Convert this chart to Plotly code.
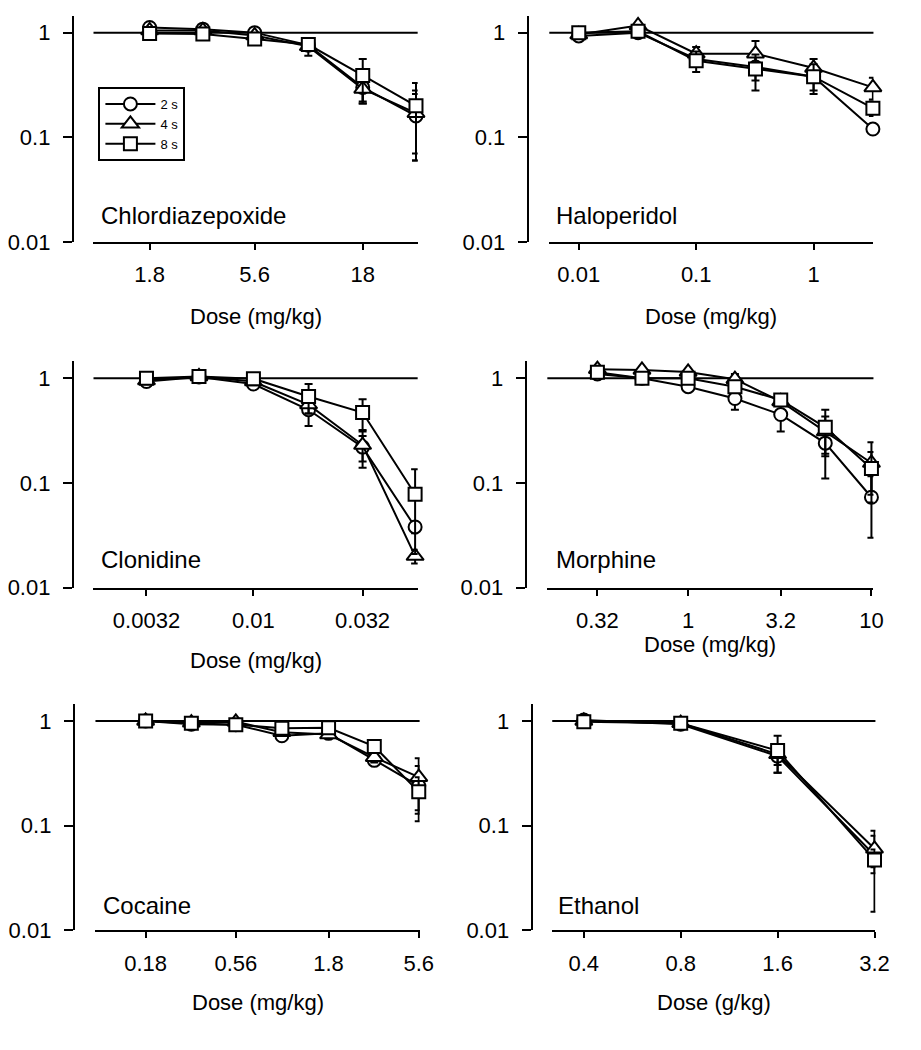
import plotly.graph_objects as go

# ---------------- data ----------------
series_names = ["2 s", "4 s", "8 s"]

cdp_dose = [1.8, 3.2, 5.6, 10, 18, 32]
cdp_2s = [1.12, 1.08, 1.0, 0.76, 0.30, 0.16]
cdp_4s = [1.05, 1.05, 0.94, 0.74, 0.29, 0.17]
cdp_8s = [0.98, 0.97, 0.87, 0.77, 0.39, 0.20]
cdp_2s_err = [0.06, 0.04, 0.03, 0.06, 0.09, 0.10]
cdp_4s_err = [0.04, 0.03, 0.03, 0.14, 0.08, 0.11]
cdp_8s_err = [0.04, 0.03, 0.04, 0.05, 0.17, 0.13]

hal_dose = [0.01, 0.032, 0.1, 0.32, 1, 3.2]
hal_2s = [0.93, 1.0, 0.56, 0.47, 0.38, 0.12]
hal_4s = [0.96, 1.17, 0.63, 0.63, 0.46, 0.30]
hal_8s = [1.0, 1.03, 0.54, 0.45, 0.38, 0.19]
hal_2s_err = [0.05, 0.04, 0.08, 0.12, 0.10, 0.01]
hal_4s_err = [0.04, 0.04, 0.10, 0.20, 0.10, 0.07]
hal_8s_err = [0.05, 0.03, 0.12, 0.17, 0.12, 0.03]

clo_dose = [0.0032, 0.0056, 0.01, 0.018, 0.032, 0.056]
clo_2s = [0.93, 1.03, 0.88, 0.50, 0.22, 0.038]
clo_4s = [0.95, 1.04, 0.93, 0.56, 0.23, 0.020]
clo_8s = [1.0, 1.04, 0.99, 0.67, 0.47, 0.078]
clo_2s_err = [0.05, 0.03, 0.06, 0.15, 0.06, 0.005]
clo_4s_err = [0.04, 0.03, 0.04, 0.10, 0.09, 0.003]
clo_8s_err = [0.04, 0.03, 0.03, 0.21, 0.16, 0.057]

mor_dose = [0.32, 0.56, 1, 1.8, 3.2, 5.6, 10]
mor_2s = [1.1, 1.0, 0.83, 0.64, 0.45, 0.24, 0.073]
mor_4s = [1.22, 1.2, 1.15, 0.98, 0.60, 0.31, 0.155]
mor_8s = [1.14, 1.0, 1.0, 0.83, 0.62, 0.34, 0.137]
mor_2s_err = [0.05, 0.04, 0.06, 0.14, 0.14, 0.13, 0.043]
mor_4s_err = [0.04, 0.04, 0.05, 0.12, 0.05, 0.12, 0.09]
mor_8s_err = [0.05, 0.04, 0.04, 0.10, 0.06, 0.16, 0.06]

coc_dose = [0.18, 0.32, 0.56, 1, 1.8, 3.2, 5.6]
coc_2s = [1.0, 0.93, 0.92, 0.72, 0.76, 0.42, 0.24]
coc_4s = [1.0, 0.96, 0.98, 0.78, 0.74, 0.45, 0.29]
coc_8s = [1.0, 0.95, 0.92, 0.85, 0.86, 0.57, 0.21]
coc_2s_err = [0.03, 0.04, 0.04, 0.05, 0.05, 0.04, 0.13]
coc_4s_err = [0.02, 0.03, 0.03, 0.05, 0.04, 0.05, 0.15]
coc_8s_err = [0.03, 0.05, 0.03, 0.05, 0.04, 0.04, 0.08]

eth_dose = [0.4, 0.8, 1.6, 3.2]
eth_2s = [1.02, 0.93, 0.46, 0.052]
eth_4s = [1.0, 0.95, 0.48, 0.060]
eth_8s = [0.98, 0.95, 0.52, 0.047]
eth_2s_err = [0.04, 0.03, 0.14, 0.037]
eth_4s_err = [0.05, 0.03, 0.10, 0.020]
eth_8s_err = [0.03, 0.03, 0.20, 0.012]

drug_names = ["Chlordiazepoxide", "Haloperidol", "Clonidine", "Morphine", "Cocaine", "Ethanol"]
x_titles = ["Dose (mg/kg)"] * 5 + ["Dose (g/kg)"]
x_tick_vals = [
    [1.8, 5.6, 18],
    [0.01, 0.1, 1],
    [0.0032, 0.01, 0.032],
    [0.32, 1, 3.2, 10],
    [0.18, 0.56, 1.8, 5.6],
    [0.4, 0.8, 1.6, 3.2],
]
x_tick_text = [
    ["1.8", "5.6", "18"],
    ["0.01", "0.1", "1"],
    ["0.0032", "0.01", "0.032"],
    ["0.32", "1", "3.2", "10"],
    ["0.18", "0.56", "1.8", "5.6"],
    ["0.4", "0.8", "1.6", "3.2"],
]
y_tick_vals = [0.01, 0.1, 1]
y_tick_text = ["0.01", "0.1", "1"]

panels = [
    (cdp_dose, [cdp_2s, cdp_4s, cdp_8s], [cdp_2s_err, cdp_4s_err, cdp_8s_err]),
    (hal_dose, [hal_2s, hal_4s, hal_8s], [hal_2s_err, hal_4s_err, hal_8s_err]),
    (clo_dose, [clo_2s, clo_4s, clo_8s], [clo_2s_err, clo_4s_err, clo_8s_err]),
    (mor_dose, [mor_2s, mor_4s, mor_8s], [mor_2s_err, mor_4s_err, mor_8s_err]),
    (coc_dose, [coc_2s, coc_4s, coc_8s], [coc_2s_err, coc_4s_err, coc_8s_err]),
    (eth_dose, [eth_2s, eth_4s, eth_8s], [eth_2s_err, eth_4s_err, eth_8s_err]),
]

# ---------------- layout geometry (page pixels) ----------------
OFF = 8                      # default body margin of the html page
W, H = 921 - 2 * OFF, 1050 - 2 * OFF
FONT = "Arial, Liberation Sans, sans-serif"


def fx(p):
    return (p - OFF) / W


def fy(p):
    return 1 - (p - OFF) / H


# x-axis pixel span, y-axis line x, log x range
x_geom = [
    (93, 423, 72, [-0.008, 1.513]),
    (557, 887, 535, [-2.251, 0.510]),
    (93, 423, 72, [-2.740, -1.240]),
    (555, 887, 533, [-0.768, 1.011]),
    (95, 425, 73, [-1.019, 0.753]),
    (560, 889, 539, [-0.496, 0.508]),
]
# y domain pixel (top, bottom) per row
y_geom = [(16, 245), (366, 595), (713, 942)]
title_y = [320, 320, 669, 653, 1015, 1015]
label_y = [218, 218, 567, 567, 917, 917]
label_x = [99, 562, 99, 562, 101, 564]

symbols = ["circle", "triangle-up", "square"]
msizes = [13, 15, 13]

fig = go.Figure()
for i, (dose, vals, errs) in enumerate(panels):
    k = i + 1
    xa = "x" if k == 1 else f"x{k}"
    ya = "y" if k == 1 else f"y{k}"
    for s in range(3):
        fig.add_trace(go.Scatter(
            x=dose, y=vals[s], xaxis=xa, yaxis=ya,
            mode="lines+markers", name=series_names[s],
            showlegend=(k == 1), legendgroup=series_names[s],
            line=dict(color="black", width=2),
            marker=dict(symbol=symbols[s], size=msizes[s], color="white",
                        line=dict(color="black", width=2)),
            error_y=dict(type="data", array=errs[s], visible=True,
                         color="black", thickness=2, width=4),
            cliponaxis=False,
        ))
    x0p, x1p, yax, xr = x_geom[i]
    row = i // 2
    ytop, ybot = y_geom[row]
    fig.layout[f"xaxis{'' if k == 1 else k}"] = dict(
        type="log", range=xr, domain=[fx(x0p), fx(x1p)], anchor=ya,
        showline=True, linecolor="black", linewidth=2,
        ticks="outside", ticklen=6, tickwidth=2, tickcolor="black",
        tickvals=x_tick_vals[i], ticktext=x_tick_text[i],
        tickfont=dict(family=FONT, size=22, color="black"),
        ticklabelstandoff=6,
        showgrid=False, zeroline=False,
    )
    fig.layout[f"yaxis{'' if k == 1 else k}"] = dict(
        type="log", range=[-2, 0.16], domain=[fy(ybot), fy(ytop)],
        anchor="free", position=fx(yax),
        showline=True, linecolor="black", linewidth=2,
        ticks="outside", ticklen=9, tickwidth=2, tickcolor="black",
        tickvals=y_tick_vals, ticktext=y_tick_text,
        tickfont=dict(family=FONT, size=22, color="black"),
        ticklabelstandoff=8,
        showgrid=False, zeroline=False,
    )
    fig.add_shape(type="line", xref=f"{xa} domain", yref=ya,
                  x0=0, x1=1, y0=1, y1=1,
                  line=dict(color="black", width=2), layer="below")
    fig.add_annotation(xref="paper", yref="paper", x=fx(label_x[i]), y=fy(label_y[i]),
                       text=drug_names[i], showarrow=False, xanchor="left", yanchor="middle",
                       font=dict(family=FONT, size=24, color="black"))
    fig.add_annotation(xref="paper", yref="paper", x=fx((x0p + x1p) / 2), y=fy(title_y[i]),
                       text=x_titles[i], showarrow=False, xanchor="center", yanchor="middle",
                       font=dict(family=FONT, size=22, color="black"))

fig.update_layout(
    width=W, height=H,
    margin=dict(l=0, r=0, t=0, b=0),
    paper_bgcolor="white", plot_bgcolor="white",
    font=dict(family=FONT, color="black"),
    legend=dict(x=fx(98), y=fy(88), xanchor="left", yanchor="top",
                bordercolor="black", borderwidth=2, bgcolor="white",
                font=dict(family=FONT, size=13, color="black"),
                itemwidth=50, tracegroupgap=0),
)

fig.write_html("out.html")
